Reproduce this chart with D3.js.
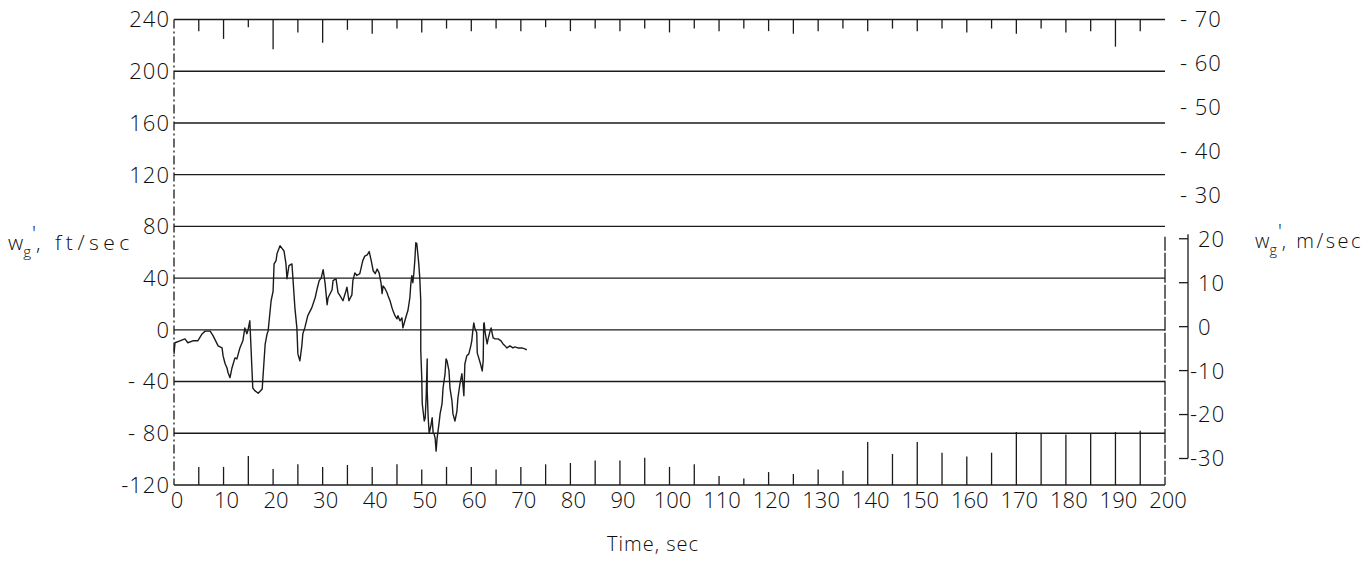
<!DOCTYPE html>
<html>
<head>
<meta charset="utf-8">
<script src="https://cdn.jsdelivr.net/npm/d3@7"></script>
<style>
  body { margin: 0; background: #fff; }
  svg text { font-family: "Open Sans", "DejaVu Sans", sans-serif; font-weight: 350; fill: #0d0d0d; }
</style>
</head>
<body>
<svg id="chart" width="1372" height="563"></svg>
<script>
// Time axis, seconds
const timeTicks = d3.range(0, 201, 10);
// Left axis, ft/sec
const ftTicks = [240, 200, 160, 120, 80, 40, 0, -40, -80, -120];
const ftLabels = ["240", "200", "160", "120", "80", "40", "0", "- 40", "- 80", "-120"];
// Right axis, m/sec
const mTicks = [70, 60, 50, 40, 30, 20, 10, 0, -10, -20, -30];
const mLabels = ["- 70", "- 60", "- 50", "- 40", "- 30", "20", "10", "0", "-10", "-20", "-30"];

// Gust velocity trace w_g' (ft/sec) against time (sec)
const traceTime = [0, 0.2, 1.2, 2.2, 2.8, 3.8, 4.8, 5.7, 6.3, 7.3, 7.9, 8.9, 9.7, 9.9, 10.3, 10.7, 10.9, 11.3, 11.7, 12.3,
  12.7, 13.3, 13.9, 14.3, 14.7, 14.9, 15.3, 15.5, 15.7, 15.9, 16.3, 17.0, 17.8, 18.0, 18.4, 18.8, 19.0, 19.2, 19.6, 20.0,
  20.2, 20.6, 20.8, 21.4, 21.8, 22.2, 22.6, 22.8, 23.2, 23.8, 24.0, 24.4, 24.8, 25.0, 25.4, 25.8, 26.0, 26.4, 27.0, 27.8,
  28.5, 28.9, 29.3, 29.7, 30.1, 30.5, 30.9, 31.1, 31.9, 32.1, 32.7, 33.1, 33.5, 34.1, 34.7, 34.9, 35.3, 35.9, 36.1, 36.5,
  36.9, 37.5, 38.1, 38.5, 39.0, 39.4, 39.8, 40.2, 40.6, 41.0, 41.4, 41.8, 42.0, 42.2, 42.6, 43.0, 43.2, 43.6, 44.0, 44.2,
  44.6, 45.0, 45.2, 45.6, 46.0, 46.2, 46.6, 47.0, 47.2, 47.6, 47.8, 48.0, 48.2, 48.4, 48.6, 48.8, 49.0, 49.2, 49.4, 49.6,
  49.8, 49.8, 50.0, 50.1, 50.5, 50.7, 50.9, 51.1, 51.1, 51.3, 51.5, 51.9, 52.1, 52.3, 52.5, 52.7, 52.9, 53.1, 53.5, 53.7,
  54.1, 54.3, 54.7, 54.9, 55.1, 55.5, 55.7, 56.1, 56.3, 56.7, 57.1, 57.3, 57.7, 58.1, 58.3, 58.5, 58.7, 59.1, 59.5, 59.9,
  60.1, 60.3, 60.5, 60.7, 61.1, 61.2, 61.8, 62.2, 62.4, 62.5, 62.6, 62.8, 63.2, 63.4, 63.8, 64.0, 64.4, 64.8, 65.4, 66.0,
  66.4, 66.8, 67.2, 67.8, 68.4, 68.8, 69.4, 70.2, 70.8, 71.2];
const traceGust = [-18.6, -10, -8.5, -7, -10, -8.5, -8.5, -3, -1, -1, -4.7, -12.4, -14, -20, -26, -29.5, -33, -37, -29.5, -21.7,
  -22.5, -14, -8.5, 1.5, -3, -0.8, 7, -10, -28, -45, -47, -49, -45.7, -34, -11, -3, -0.8, 7, 22.5, 30,
  51, 53.5, 59, 65, 63, 61, 51, 39.5, 49.6, 51, 40, 17, 1.5, -18.6, -24, -12.4, -3, 1.5, 11, 17,
  25, 32, 38, 40, 46.5, 35.7, 19.4, 24.8, 31, 38, 39.5, 28.7, 26.4, 22.5, 30, 33, 22.5, 27, 38, 44,
  42, 43.4, 53.5, 57, 58, 60.5, 53.5, 45.7, 43.4, 47, 44, 35.7, 28, 34, 31.8, 28.7, 26.4, 22.5, 17, 14.7,
  10.9, 8.5, 10.9, 7, 9.3, 1.5, 7, 12.4, 14.7, 24.8, 35.7, 41.9, 36.4, 43.4, 53.5, 67.4, 66.7, 59, 51, 40,
  22.5, -16, -37, -57, -70.5, -68, -51, -22.5, -47, -68, -80, -73, -68, -80, -80.6, -83.7, -93.8, -83.7, -72, -65,
  -57, -45, -34, -22.5, -24, -31.8, -45, -55, -65, -70.5, -62.8, -52.7, -41.9, -34, -41.9, -51, -26.4, -20, -18.6, -12.4,
  -8.5, -0.8, 5.4, 1.5, -2.3, -17.8, -25.6, -31.8, -24, 4.6, 5.4, -2.3, -10.9, -7, -0.8, 1.5, -6.2, -7, -7, -8.5,
  -10.9, -12.4, -14, -12.4, -14, -13.2, -14, -14, -14.7, -15.5];

// Frame tick marks every 5 sec along the top and bottom edges (ft/sec reached by each mark)
const frameTickTimes = d3.range(5, 200, 5);
const topTickEnds = [231, 225, 234, 217, 230, 222, 232, 229, 233, 230, 233, 231, 233, 231, 234, 231, 233, 231, 233, 230,
  233, 231, 233, 231, 229, 231, 233, 231, 233, 231, 233, 230, 233, 229, 233, 230, 231, 219, 231];
const bottomTickTops = [-106, -106, -97.6, -107.6, -104, -106, -104.5, -106, -104, -108, -106, -106, -108, -106, -104, -103, -101, -101, -99, -106,
  -104, -113, -115, -110, -111.5, -108, -109, -86.8, -96, -86.8, -95, -98, -95, -79, -80, -81, -80, -79, -78];

const x = d3.scaleLinear().domain([0, 200]).range([174, 1165]);
const y = d3.scaleLinear().domain([-120, 240]).range([485, 19.5]);
const yM = d3.scaleLinear().domain([-30, 70]).range([458.5, 19]);

const svg = d3.select("#chart");
const ink = "#1b1b1b";

// Horizontal grid lines across the record
svg.append("g").selectAll("line").data(ftTicks).join("line")
  .attr("x1", x(0)).attr("x2", x(200))
  .attr("y1", d => y(d)).attr("y2", d => y(d))
  .attr("stroke", ink).attr("stroke-width", 1.4);

// Left border (dash-dot) and right border
svg.append("line")
  .attr("x1", x(0)).attr("x2", x(0)).attr("y1", y(240)).attr("y2", y(-120))
  .attr("stroke", ink).attr("stroke-width", 1.3).attr("stroke-dasharray", "9 3 2 3");
svg.append("line")
  .attr("x1", x(200)).attr("x2", x(200)).attr("y1", y(72)).attr("y2", y(-120))
  .attr("stroke", ink).attr("stroke-width", 1.3).attr("stroke-dasharray", "14 2");

// Frame ticks
svg.append("g").selectAll("line").data(frameTickTimes).join("line")
  .attr("x1", d => x(d)).attr("x2", d => x(d))
  .attr("y1", y(240)).attr("y2", (d, i) => y(topTickEnds[i]))
  .attr("stroke", ink).attr("stroke-width", 1.3);
svg.append("g").selectAll("line").data(frameTickTimes).join("line")
  .attr("x1", d => x(d)).attr("x2", d => x(d))
  .attr("y1", y(-120)).attr("y2", (d, i) => y(bottomTickTops[i]))
  .attr("stroke", ink).attr("stroke-width", 1.3);

// Trace
const line = d3.line().x((d, i) => x(traceTime[i])).y(d => y(d)).curve(d3.curveLinear);
svg.append("path").datum(traceGust)
  .attr("d", line).attr("fill", "none")
  .attr("stroke", ink).attr("stroke-width", 1.4).attr("stroke-linejoin", "round");

// Left axis labels
svg.append("g").selectAll("text").data(ftTicks).join("text")
  .attr("x", 170).attr("y", d => y(d)).attr("dy", "0.36em")
  .attr("text-anchor", "end").attr("font-size", 22).attr("letter-spacing", 1)
  .text((d, i) => ftLabels[i]);

// Bottom axis labels
svg.append("g").selectAll("text").data(timeTicks).join("text")
  .attr("x", d => x(d) + 3).attr("y", 508)
  .attr("text-anchor", "middle").attr("font-size", 22)
  .text(d => d);

// Right axis (m/sec)
svg.append("line")
  .attr("x1", 1188).attr("x2", 1188).attr("y1", yM(21)).attr("y2", yM(-30))
  .attr("stroke", ink).attr("stroke-width", 1.3);
svg.append("g").selectAll("line").data(mTicks.filter(d => d <= 20)).join("line")
  .attr("x1", 1179).attr("x2", 1188)
  .attr("y1", d => yM(d)).attr("y2", d => yM(d))
  .attr("stroke", ink).attr("stroke-width", 1.3);
svg.append("g").selectAll("text").data(mTicks).join("text")
  .attr("x", d => d > 20 ? 1180 : (d < 0 ? 1190 : 1198))
  .attr("y", d => yM(d)).attr("dy", "0.36em")
  .attr("font-size", 22).attr("letter-spacing", 1)
  .text((d, i) => mLabels[i]);

// Axis titles: w with subscript g and a prime
function gustTitle(x0, y0, unit, size, spacing) {
  const t = svg.append("text").attr("x", x0).attr("y", y0).attr("font-size", size);
  t.append("tspan").text("w");
  t.append("tspan").attr("font-size", size * 0.72).attr("dy", 7).text("g");
  t.append("tspan").attr("dx", 1).attr("dy", -16).text("'");
  t.append("tspan").attr("dy", 9).attr("letter-spacing", spacing).text(", " + unit);
}
gustTitle(8, 250, "ft/sec", 21, 4.5);
gustTitle(1255, 248, "m/sec", 20, 2.5);

svg.append("text").attr("x", 653).attr("y", 551)
  .attr("text-anchor", "middle").attr("font-size", 20).attr("letter-spacing", 1)
  .text("Time, sec");
</script>
</body>
</html>
